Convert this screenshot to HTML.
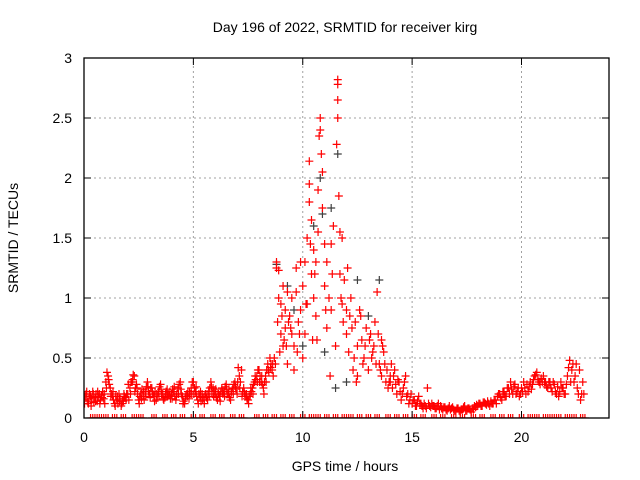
<!DOCTYPE html>
<html><head><meta charset="utf-8"><style>
body{margin:0;background:#fff}
svg{display:block;font-family:"Liberation Sans",Arial,sans-serif}
</style></head><body>
<svg id="chart" width="640" height="480" xmlns="http://www.w3.org/2000/svg">
<defs><clipPath id="pc"><rect x="84" y="58" width="525" height="360"/></clipPath></defs>
<rect x="0" y="0" width="640" height="480" fill="#fff"/>
<text x="345" y="32" text-anchor="middle" font-size="14">Day 196 of 2022, SRMTID for receiver kirg</text>
<text x="345" y="471" text-anchor="middle" font-size="14">GPS time / hours</text>
<text transform="translate(18,238) rotate(-90)" text-anchor="middle" font-size="14">SRMTID / TECUs</text>
<g id="grid"></g>
<g id="marks" clip-path="url(#pc)"></g>
<rect x="84" y="58" width="525" height="360" fill="none" stroke="#000" stroke-width="1.3"/>
<g id="ticks"></g>
</svg>
<script>
const xTicks=[0,5,10,15,20];
const yTicks=[0,0.5,1,1.5,2,2.5,3];
const yTickLabels=["0","0.5","1","1.5","2","2.5","3"];
const baseStart=0.0;
const baseStep=0.1;
const baseValues=[0.15,0.2,0.12,0.18,0.22,0.17,0.14,0.2,0.19,0.16,
0.3,0.35,0.25,0.18,0.12,0.15,0.2,0.1,0.14,0.17,
0.2,0.25,0.3,0.35,0.28,0.15,0.2,0.18,0.22,0.3,
0.2,0.25,0.18,0.15,0.22,0.28,0.2,0.17,0.24,0.19,
0.2,0.22,0.15,0.25,0.3,0.18,0.12,0.2,0.16,0.25,
0.3,0.22,0.15,0.18,0.2,0.12,0.17,0.22,0.3,0.25,
0.2,0.15,0.18,0.25,0.22,0.28,0.2,0.15,0.25,0.3,
0.2,0.35,0.4,0.25,0.18,0.15,0.2,0.25,0.3,0.35,
0.4,0.3,0.25,0.35,0.45,0.5,0.4];
const base2Values=[0.18,0.14,0.2,0.16,0.13,0.2,0.18,0.15,0.22,0.12,
0.38,0.28,0.2,0.15,0.18,0.12,0.16,0.14,0.18,0.2,
0.15,0.3,0.36,0.25,0.2,0.18,0.24,0.15,0.26,0.22,
0.25,0.2,0.22,0.18,0.26,0.2,0.15,0.22,0.2,0.16,
0.24,0.18,0.2,0.28,0.2,0.14,0.18,0.22,0.2,0.3,
0.25,0.18,0.2,0.14,0.17,0.2,0.15,0.25,0.2,0.22,
0.17,0.2,0.22,0.2,0.26,0.2,0.17,0.22,0.28,0.24,
0.42,0.3,0.22,0.2,0.16,0.18,0.22,0.28,0.32,0.4,
0.35,0.28,0.3,0.4,0.38,0.45,0.35];
const base3Values=[0.12,0.22,0.16,0.1,0.2,0.14,0.22,0.12,0.17,0.2,
0.25,0.32,0.18,0.22,0.1,0.18,0.14,0.12,0.2,0.15,
0.28,0.2,0.32,0.22,0.25,0.12,0.16,0.22,0.18,0.26,
0.17,0.22,0.14,0.2,0.18,0.24,0.16,0.2,0.18,0.22,
0.16,0.26,0.18,0.2,0.24,0.12,0.16,0.18,0.22,0.2,
0.2,0.26,0.12,0.22,0.15,0.18,0.2,0.18,0.26,0.18,
0.24,0.2,0.14,0.22,0.18,0.24,0.24,0.2,0.2,0.26,
0.3,0.25,0.18,0.22,0.2,0.12,0.25,0.2,0.35,0.3,
0.3,0.35,0.2,0.3,0.4,0.42,0.45];
const tailStart=14.0;
const tailValues=[0.3,0.25,0.4,0.2,0.3,0.15,0.25,0.35,0.2,0.15,
0.12,0.15,0.1,0.18,0.12,0.08,0.1,0.25,0.1,0.12,
0.1,0.08,0.12,0.1,0.07,0.09,0.06,0.1,0.08,0.07,
0.06,0.08,0.05,0.07,0.1,0.06,0.08,0.05,0.07,0.09,
0.1,0.12,0.1,0.13,0.11,0.12,0.14,0.12,0.15,0.18,
0.2,0.15,0.22,0.18,0.25,0.3,0.2,0.28,0.22,0.18,
0.25,0.3,0.2,0.22,0.3,0.28,0.35,0.38,0.3,0.33,
0.35,0.3,0.25,0.3,0.22,0.28,0.2,0.18,0.3,0.25,
0.2,0.35,0.48,0.4,0.3,0.45,0.2,0.15,0.3];
const tail2Values=[0.45,0.35,0.28,0.32,0.22,0.2,0.3,0.18,0.12,0.2,
0.15,0.1,0.14,0.12,0.1,0.12,0.08,0.12,0.09,0.1,
0.08,0.1,0.07,0.08,0.09,0.07,0.08,0.07,0.09,0.06,
0.08,0.06,0.07,0.09,0.06,0.08,0.07,0.08,0.1,0.11,
0.12,0.1,0.13,0.12,0.14,0.1,0.12,0.15,0.12,0.2,
0.17,0.22,0.18,0.25,0.2,0.24,0.26,0.2,0.25,0.2,
0.22,0.25,0.28,0.26,0.24,0.32,0.36,0.32,0.28,0.3,
0.3,0.26,0.3,0.25,0.3,0.22,0.26,0.22,0.25,0.2,
0.28,0.42,0.3,0.45,0.35,0.25,0.4,0.2,0.2];
const peakHours=[8.8,8.8,8.9,8.85,8.9,9.0,9.0,9.1,9.1,9.2,9.2,9.3,9.3,9.4,9.5,9.5,9.6,9.7,9.7,9.8,9.9,9.9,10.0,10.0,10.1,10.1,10.2,10.2,10.3,10.3,10.3,10.35,10.4,10.4,10.5,10.5,10.6,10.6,10.7,10.7,10.75,10.8,10.8,10.85,10.9,10.9,11.0,11.0,11.1,11.1,11.2,11.3,11.3,11.4,11.5,11.55,11.6,11.6,11.6,11.6,11.65,11.7,11.7,11.8,11.8,11.9,12.0,12.0,12.1,12.2,12.3,12.4,12.5,12.5,12.6,12.7,12.8,12.9,13.0,13.1,13.2,13.3,13.4,13.5,13.6,13.6,13.7,13.8,13.9,14.0,8.7,8.95,9.6,10.45,11.25,12.15,12.45,13.25,13.75,13.65,
9.05,9.25,9.45,9.75,9.85,10.15,10.55,10.65,11.05,11.35,11.75,11.85,12.05,12.25,12.35,12.65,12.75,12.85,13.05,13.15,13.35,13.45,13.55,13.85,13.95,8.75,9.15,9.35];
const peakValues=[1.3,1.25,1.23,0.8,1.0,0.7,0.95,1.1,0.6,0.75,0.9,1.05,0.45,0.85,1.0,0.7,0.6,1.25,1.05,0.8,1.3,0.9,0.5,1.1,1.3,0.7,1.5,0.95,2.14,1.95,1.8,1.45,1.65,1.2,1.4,1.0,0.85,1.3,1.9,1.55,2.35,2.5,2.4,2.2,1.75,2.05,1.45,1.1,1.3,0.75,1.0,0.9,1.45,1.6,0.6,2.28,2.82,2.78,2.65,2.5,1.85,1.55,1.2,1.5,0.95,1.15,0.9,0.7,0.55,1.0,0.4,0.8,0.6,0.35,0.9,0.65,0.5,0.75,0.4,0.7,0.55,0.8,1.05,0.45,0.65,0.35,0.55,0.3,0.25,0.35,0.5,0.55,0.4,0.65,0.35,0.85,0.3,0.6,0.45,0.6,
0.85,0.6,0.75,0.55,0.7,0.95,1.2,0.65,0.9,1.2,1.0,0.8,1.25,0.75,0.5,0.85,0.45,0.6,0.65,0.5,0.45,0.7,0.4,0.4,0.3,0.45,0.65,0.8];
const darkHours=[8.8,9.3,10.0,10.5,10.8,10.9,11.0,11.3,11.5,12.5,13.0,13.5,12.0,9.6,11.6];
const darkValues=[1.28,1.1,0.6,1.6,2.0,1.7,0.55,1.75,0.25,1.15,0.85,1.15,0.3,0.9,2.2];
const zeroHours=[0.3,0.6,0.9,1.3,1.7,2.2,2.5,3.1,3.6,4.0,4.4,4.9,5.3,5.8,6.2,6.7,7.1,7.8,8.2,8.6,9.0,9.4,9.9,10.3,10.6,11.0,11.4,11.8,12.1,12.5,12.9,13.3,13.8,14.2,14.6,15.0,15.4,15.9,16.3,16.8,17.2,17.7,18.1,18.6,19.0,19.4,19.9,20.3,20.6,21.0,21.3,21.6,22.0,22.3,22.7];

const X0=84,X1=609,Y0=418,Y1=58,XMAX=24,YMAX=3;
const sx=h=>X0+(X1-X0)*h/XMAX;
const sy=v=>Y0-(Y0-Y1)*v/YMAX;
const NS="http://www.w3.org/2000/svg";
const grid=document.getElementById('grid'),ticks=document.getElementById('ticks'),marks=document.getElementById('marks');
function mk(tag,attrs,parent){const e=document.createElementNS(NS,tag);for(const k in attrs)e.setAttribute(k,attrs[k]);parent.appendChild(e);return e;}
xTicks.forEach(t=>{
  const x=sx(t);
  if(t>0){const g=mk('line',{x1:x,y1:Y0,x2:x,y2:Y1,stroke:'#a0a0a0','stroke-dasharray':'2,3'},grid);
  
  }
  mk('line',{x1:x,y1:Y0,x2:x,y2:Y0-7,stroke:'#000'},ticks);
  mk('line',{x1:x,y1:Y1,x2:x,y2:Y1+7,stroke:'#000'},ticks);
  const l=mk('text',{x:x,y:Y0+24,'text-anchor':'middle','font-size':14},ticks);
  l.textContent=String(t);
  
  
});
yTicks.forEach((t,i)=>{
  const y=sy(t);
  if(t>0&&t<YMAX){const g=mk('line',{x1:X0,y1:y,x2:X1,y2:y,stroke:'#a0a0a0','stroke-dasharray':'2,3'},grid);
  
  }
  mk('line',{x1:X0,y1:y,x2:X0+7,y2:y,stroke:'#000'},ticks);
  mk('line',{x1:X1,y1:y,x2:X1-7,y2:y,stroke:'#000'},ticks);
  const l=mk('text',{x:X0-12,y:y+5,'text-anchor':'end','font-size':14},ticks);
  l.textContent=yTickLabels[i];
  
  
});
function cross(h,v,color,name){
  const x=sx(h),y=sy(v);
  const p=mk('path',{d:`M${x-4},${y}h8M${x},${y-4}v8`,stroke:color,'stroke-width':1.2,fill:'none'},marks);
  
  
}
baseValues.forEach((v,i)=>cross(baseStart+i*baseStep,v,'#ff0000','point-red'));
base2Values.forEach((v,i)=>cross(baseStart+0.05+i*baseStep,v,'#ff0000','point-red'));
base3Values.forEach((v,i)=>cross(baseStart+0.025+i*baseStep,v,'#ff0000','point-red'));
tailValues.forEach((v,i)=>cross(tailStart+i*baseStep,v,'#ff0000','point-red'));
tail2Values.forEach((v,i)=>cross(tailStart+0.05+i*baseStep,v,'#ff0000','point-red'));
darkHours.forEach((h,i)=>cross(h,darkValues[i],'#404040','point-dark'));
peakHours.forEach((h,i)=>cross(h,peakValues[i],'#ff0000','point-red'));
zeroHours.forEach(h=>{cross(h,0,'#ff0000','point-zero');cross(h+0.1,0,'#ff0000','point-zero');cross(h+0.2,0,'#ff0000','point-zero');});
</script>
</body></html>
